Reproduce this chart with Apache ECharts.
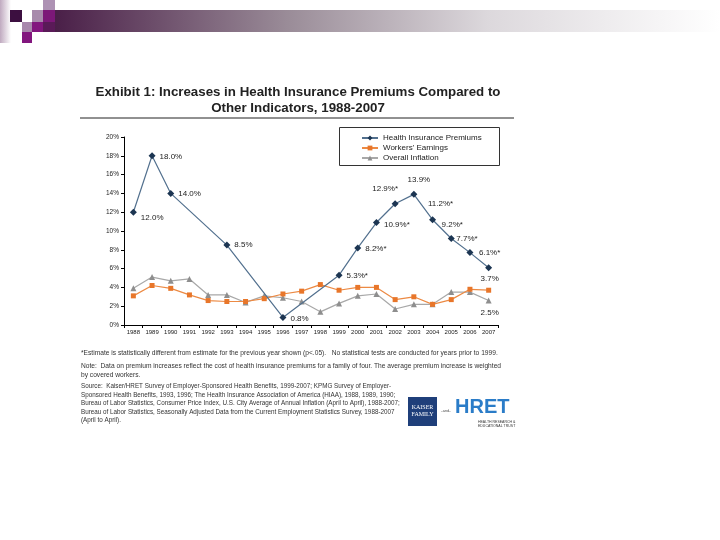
<!DOCTYPE html>
<html>
<head>
<meta charset="utf-8">
<script src="https://cdn.jsdelivr.net/npm/echarts@6/dist/echarts.min.js"></script>
<style>
  html, body { margin: 0; padding: 0; background: #ffffff; }
  #chart { width: 720px; height: 540px; }
</style>
</head>
<body>
<div id="chart"></div>
<script>
// ---- Data ----
const years = ['1988','1989','1990','1991','1992','1993','1994','1995','1996','1997',
               '1998','1999','2000','2001','2002','2003','2004','2005','2006','2007'];
const premiums = [12.0, 18.0, 14.0, null, null, 8.5, null, null, 0.8, null,
                  null, 5.3, 8.2, 10.9, 12.9, 13.9, 11.2, 9.2, 7.7, 6.1];
const premiumLabels = ['12.0%','18.0%','14.0%','','','8.5%','','','0.8%','',
                       '','5.3%*','8.2%*','10.9%*','12.9%*','13.9%','11.2%*','9.2%*','7.7%*','6.1%*'];
const earnings = [3.1, 4.2, 3.9, 3.2, 2.6, 2.5, 2.5, 2.8, 3.3, 3.6,
                  4.3, 3.7, 4.0, 4.0, 2.7, 3.0, 2.2, 2.7, 3.8, 3.7];
const earningsLabels = ['','','','','','','','','','','','','','','','','','','','3.7%'];
const inflation = [3.9, 5.1, 4.7, 4.9, 3.2, 3.2, 2.4, 3.1, 2.9, 2.5,
                   1.4, 2.3, 3.1, 3.3, 1.7, 2.2, 2.2, 3.5, 3.5, 2.6];
const inflationLabels = ['','','','','','','','','','','','','','','','','','','','2.5%'];
const yTicks = ['0%','2%','4%','6%','8%','10%','12%','14%','16%','18%','20%'];
const seriesNames = ['Health Insurance Premiums', "Workers' Earnings", 'Overall Inflation'];

// ---- Label placement (style only) ----
const premLabelStyle = {
  0: {position: 'right', offset: [0, 6]},
  1: {position: 'right', offset: [0, 1]},
  2: {position: 'right', offset: [0, 0]},
  5: {position: 'right', offset: [0, 0]},
  8: {position: 'right', offset: [0, 1]},
  11: {position: 'right', offset: [0, 1]},
  12: {position: 'right', offset: [0, 1]},
  13: {position: 'right', offset: [0, 2]},
  14: {position: 'top', offset: [-10, -3]},
  15: {position: 'top', offset: [5, -3]},
  16: {position: 'top', offset: [8, -4]},
  17: {position: 'top', offset: [1, -2]},
  18: {position: 'top', offset: [-3, -2]},
  19: {position: 'top', offset: [1, -3]}
};

function build(values, labels, styleMap, defPos) {
  return values.map((v, i) => {
    const item = {value: v};
    if (labels[i]) {
      const st = (styleMap && styleMap[i]) || {position: defPos, offset: [0, 0]};
      item.label = {show: true, formatter: labels[i], position: st.position, offset: st.offset, distance: 4};
    }
    return item;
  });
}

const chart = echarts.init(document.getElementById('chart'));
const noteFont = '6.65px "Liberation Sans", Arial, sans-serif';
const srcFont = '6.3px "Liberation Sans", Arial, sans-serif';
const footLines = [
  ['*Estimate is statistically different from estimate for the previous year shown (p<.05).   No statistical tests are conducted for years prior to 1999.', 354, noteFont],
  ['Note:  Data on premium increases reflect the cost of health insurance premiums for a family of four. The average premium increase is weighted', 367, noteFont],
  ['by covered workers.', 376, noteFont],
  ['Source:  Kaiser/HRET Survey of Employer-Sponsored Health Benefits, 1999-2007; KPMG Survey of Employer-', 387, srcFont],
  ['Sponsored Health Benefits, 1993, 1996; The Health Insurance Association of America (HIAA), 1988, 1989, 1990;', 396, srcFont],
  ['Bureau of Labor Statistics, Consumer Price Index, U.S. City Average of Annual Inflation (April to April), 1988-2007;', 404, srcFont],
  ['Bureau of Labor Statistics, Seasonally Adjusted Data from the Current Employment Statistics Survey, 1988-2007', 413, srcFont],
  ['(April to April).', 421, srcFont]
];

const graphics = [
  // top decorative band
  {type: 'rect', shape: {x: 0, y: 0, width: 11, height: 43}, style: {fill: new echarts.graphic.LinearGradient(0, 0, 1, 0, [{offset: 0, color: '#c0aac0'}, {offset: 1, color: '#ffffff'}])}},
  {type: 'rect', shape: {x: 55, y: 10, width: 665, height: 22}, style: {fill: new echarts.graphic.LinearGradient(0, 0, 1, 0, [{offset: 0, color: '#4a1f48'}, {offset: 0.35, color: '#9a8c98'}, {offset: 0.65, color: '#dcd8dc'}, {offset: 1, color: '#ffffff'}])}},
  {type: 'rect', shape: {x: 10, y: 10, width: 12, height: 12}, style: {fill: '#3c0f40'}},
  {type: 'rect', shape: {x: 22, y: 22, width: 10, height: 10}, style: {fill: '#a888ac'}},
  {type: 'rect', shape: {x: 22, y: 32, width: 10, height: 11}, style: {fill: '#82167e'}},
  {type: 'rect', shape: {x: 32, y: 10, width: 11, height: 12}, style: {fill: '#a88aac'}},
  {type: 'rect', shape: {x: 32, y: 22, width: 11, height: 10}, style: {fill: '#82167e'}},
  {type: 'rect', shape: {x: 43, y: 0, width: 12, height: 10}, style: {fill: '#ae92b4'}},
  {type: 'rect', shape: {x: 43, y: 10, width: 12, height: 12}, style: {fill: '#7c1878'}},
  {type: 'rect', shape: {x: 43, y: 22, width: 12, height: 10}, style: {fill: '#5a1a58'}},
  // title
  {type: 'text', x: 298, y: 84, style: {text: 'Exhibit 1: Increases in Health Insurance Premiums Compared to\nOther Indicators, 1988-2007', font: 'bold 13.3px "Liberation Sans", Arial, sans-serif', fill: '#222', textAlign: 'center', lineHeight: 16}},
  {type: 'line', shape: {x1: 80, y1: 118, x2: 514, y2: 118}, style: {stroke: '#222', lineWidth: 1}},
  // legend box
  {type: 'rect', shape: {x: 339.5, y: 127.5, width: 160, height: 38}, style: {fill: '#fff', stroke: '#333', lineWidth: 1}, z: 0},
  // logos
  {type: 'rect', shape: {x: 408, y: 397, width: 29, height: 29}, style: {fill: '#1f3f7a'}},
  {type: 'text', x: 422.5, y: 404, style: {text: 'KAISER\nFAMILY', font: '6px "Liberation Serif", serif', fill: '#fff', textAlign: 'center', lineHeight: 7}},
  {type: 'text', x: 446, y: 409, style: {text: '-and-', font: '4px sans-serif', fill: '#555', textAlign: 'center'}},
  {type: 'text', x: 455, y: 397, style: {text: 'HRET', font: 'bold 20px "Liberation Sans", Arial, sans-serif', fill: '#2a7cc8'}},
  {type: 'text', x: 478, y: 420, style: {text: 'HEALTH RESEARCH &\nEDUCATIONAL TRUST', font: '3.5px sans-serif', fill: '#333', lineHeight: 4}}
];
footLines.forEach(([t, y, f]) => {
  graphics.push({type: 'text', x: 81, y: y - 4, style: {text: t, font: f, fill: '#333'}});
});

const labelFont = {fontSize: 8, color: '#222', fontFamily: '"Liberation Sans", Arial, sans-serif'};

chart.setOption({
  animation: false,
  backgroundColor: '#ffffff',
  graphic: graphics,
  legend: {
    orient: 'vertical', left: 356, top: 129, itemGap: 2, itemWidth: 16, itemHeight: 6,
    textStyle: {fontSize: 8, color: '#222', fontFamily: '"Liberation Sans", Arial, sans-serif'},
    data: seriesNames, z: 5
  },
  grid: {left: 124, right: 222, top: 137, bottom: 215},
  xAxis: {
    type: 'category', data: years, boundaryGap: true,
    axisLine: {lineStyle: {color: '#000', width: 1}},
    axisTick: {show: true, length: 3, lineStyle: {color: '#000'}},
    axisLabel: {fontSize: 6, color: '#222', margin: 4, interval: 0, fontFamily: '"Liberation Sans Narrow", "Liberation Sans", sans-serif'}
  },
  yAxis: {
    type: 'value', min: 0, max: 20, interval: 2,
    axisLine: {show: true, lineStyle: {color: '#000', width: 1}},
    axisTick: {show: true, length: 3, lineStyle: {color: '#000'}},
    splitLine: {show: false},
    axisLabel: {fontSize: 6.5, color: '#222', margin: 5, formatter: (v) => yTicks[Math.round(v / 2)], fontFamily: '"Liberation Sans", Arial, sans-serif'}
  },
  series: [
    {
      name: seriesNames[0], type: 'line', connectNulls: true, symbol: 'diamond', symbolSize: 7,
      lineStyle: {color: '#52708e', width: 1.2}, itemStyle: {color: '#1c3552'},
      label: labelFont, data: build(premiums, premiumLabels, premLabelStyle, 'right'), z: 3
    },
    {
      name: seriesNames[1], type: 'line', symbol: 'rect', symbolSize: 5,
      lineStyle: {color: '#ec8a44', width: 1.2}, itemStyle: {color: '#e8762a'},
      label: labelFont, data: build(earnings, earningsLabels, {19: {position: 'top', offset: [1, -1]}}, 'top'), z: 2
    },
    {
      name: seriesNames[2], type: 'line', symbol: 'triangle', symbolSize: 6,
      lineStyle: {color: '#a8a8a8', width: 1.2}, itemStyle: {color: '#8e8e8e'},
      label: labelFont, data: build(inflation, inflationLabels, {19: {position: 'bottom', offset: [1, 1]}}, 'bottom'), z: 1
    }
  ]
});
</script>
</body>
</html>
